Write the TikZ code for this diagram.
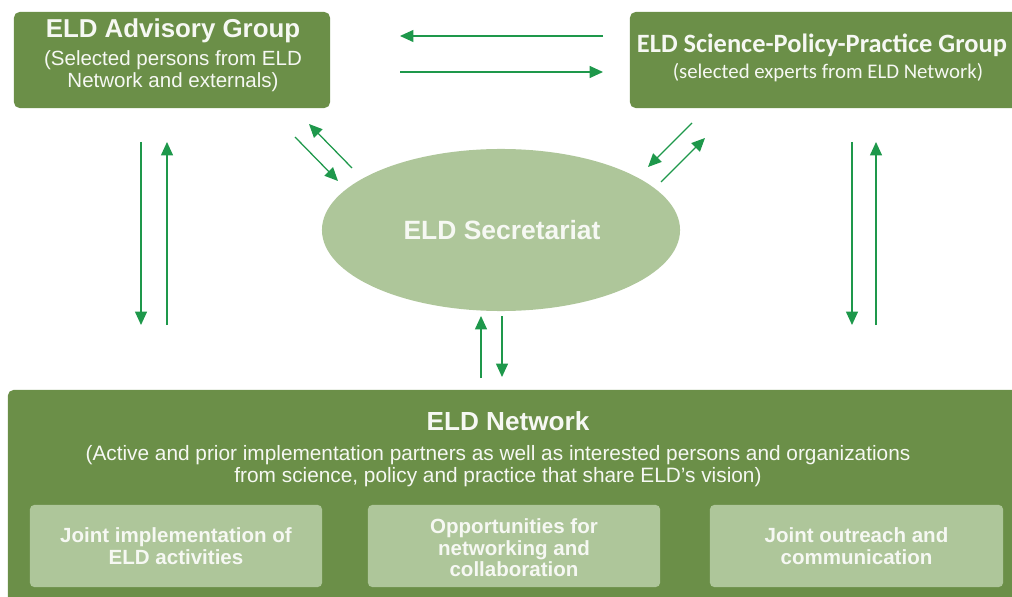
\documentclass[tikz,border=0pt]{standalone}
\usepackage{fontspec}
\setmainfont{Liberation Sans}
\newfontfamily\calibfont{Carlito}
\usepackage{tikz}
\usetikzlibrary{shapes.geometric,arrows.meta}
\definecolor{eldgreen}{RGB}{107,143,72}
\definecolor{eldlight}{RGB}{174,198,154}
\definecolor{eldarrow}{RGB}{30,152,75}
\definecolor{eldtext}{RGB}{246,248,243}

\begin{document}
\begin{tikzpicture}[x=0.025cm,y=-0.025cm,
  darkbox/.style={fill=eldgreen, rounded corners=4pt, inner sep=0pt},
  lightbox/.style={fill=eldlight, rounded corners=3pt, inner sep=0pt, minimum height=2.05cm},
  flow/.style={draw=eldarrow, line width=0.9pt, -{Triangle[width=8.5pt,length=9.5pt]}},
  boxtext/.style={text=eldtext, align=center}]
\useasboundingbox (0,0) rectangle (1012,597);

% boxes
\node[darkbox, minimum width=7.9cm, minimum height=2.4cm] (adv) at (172,60) {};
\node[darkbox, minimum width=9.9cm, minimum height=2.4cm] (spp) at (828,60) {};
\node[ellipse, fill=eldlight, inner sep=0pt, minimum width=8.95cm, minimum height=4.05cm] (sec) at (501,230) {};
\node[darkbox, minimum width=25.55cm, minimum height=5.5cm] (net) at (519,500) {};
\node[lightbox, minimum width=7.3cm] (act) at (176,546) {};
\node[lightbox, minimum width=7.3cm] (opp) at (514,546) {};
\node[lightbox, minimum width=7.325cm] (out) at (856.5,546) {};

% texts
\node[boxtext, font=\fontsize{18.4}{20}\selectfont\bfseries] (advtitle) at (173,31) {ELD Advisory Group};
\node[boxtext, font=\fontsize{14.6}{15.6}\selectfont] (advsub) at (173,71) {(Selected persons from ELD\\Network and externals)};
\node[boxtext, font=\fontsize{18.8}{20}\selectfont\calibfont\bfseries] (spptitle) at (822,45) {ELD Science-Policy-Practice Group};
\node[boxtext, font=\fontsize{14.8}{16}\selectfont\calibfont] (sppsub) at (828,73) {(selected experts from ELD Network)};
\node[boxtext, font=\fontsize{18.8}{20}\selectfont\bfseries] (sectitle) at (502,230) {ELD Secretariat};
\node[boxtext, font=\fontsize{18.6}{20}\selectfont\bfseries] (nettitle) at (508,421) {ELD Network};
\node[boxtext, font=\fontsize{14.8}{15.6}\selectfont] (netsub) at (498,466) {(Active and prior implementation partners as well as interested persons and organizations\\from science, policy and practice that share ELD’s vision)};
\node[boxtext, font=\fontsize{14.6}{15.2}\selectfont\bfseries] (acttext) at (176,546) {Joint implementation of\\ELD activities};
\node[boxtext, font=\fontsize{14.6}{15.2}\selectfont\bfseries] (opptext) at (514,548) {Opportunities for\\networking and\\collaboration};
\node[boxtext, font=\fontsize{14.6}{15.2}\selectfont\bfseries] (outtext) at (856.5,546) {Joint outreach and\\communication};

% arrow ends
\coordinate (tl1) at (603,36);  \coordinate (tl2) at (400,36);
\coordinate (tr1) at (400,72);  \coordinate (tr2) at (603,72);
\coordinate (ld1) at (141,142); \coordinate (ld2) at (141,325);
\coordinate (lu1) at (167,325); \coordinate (lu2) at (167,142);
\coordinate (rd1) at (852,142); \coordinate (rd2) at (852,325);
\coordinate (ru1) at (876,325); \coordinate (ru2) at (876,142);
\coordinate (ad1) at (295,137); \coordinate (ad2) at (338,181);
\coordinate (au1) at (352,168); \coordinate (au2) at (309,124);
\coordinate (sd1) at (692,123); \coordinate (sd2) at (648,167);
\coordinate (su1) at (661,182); \coordinate (su2) at (705,138);
\coordinate (bu1) at (481,378); \coordinate (bu2) at (481,316);
\coordinate (bd1) at (502,316); \coordinate (bd2) at (502,377);

% arrows
\draw[flow] (tl1) -- (tl2);
\draw[flow] (tr1) -- (tr2);
\draw[flow] (ld1) -- (ld2);
\draw[flow] (lu1) -- (lu2);
\draw[flow] (rd1) -- (rd2);
\draw[flow] (ru1) -- (ru2);
\draw[flow] (ad1) -- (ad2);
\draw[flow] (au1) -- (au2);
\draw[flow] (sd1) -- (sd2);
\draw[flow] (su1) -- (su2);
\draw[flow] (bu1) -- (bu2);
\draw[flow] (bd1) -- (bd2);
\end{tikzpicture}
\end{document}
